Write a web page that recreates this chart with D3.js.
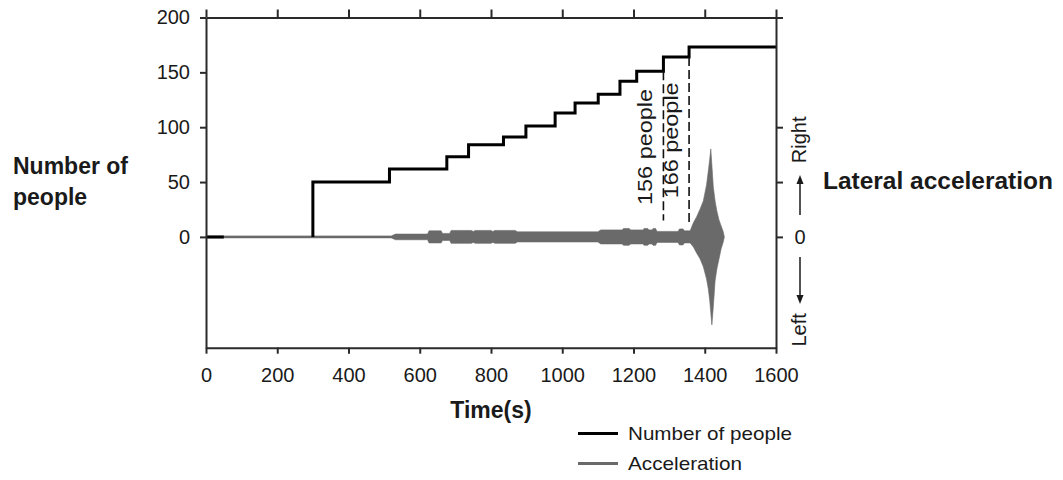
<!DOCTYPE html>
<html>
<head>
<meta charset="utf-8">
<script src="https://cdn.jsdelivr.net/npm/d3@7"></script>
<style>
  html, body { margin: 0; padding: 0; background: #fff; }
  svg { display: block; }
  text { font-family: "Liberation Sans", Arial, Helvetica, sans-serif; fill: #1a1a1a; }
</style>
</head>
<body>
<svg id="chart" width="1063" height="480"></svg>
<script>
// ---------------- data ----------------
const xTicks = [0, 200, 400, 600, 800, 1000, 1200, 1400, 1600];
const yTicks = [0, 50, 100, 150, 200];
const rightTicks = [0, 50, 100, 200];

// Number of people (step series, null = gap)
const peopleTime  = [0, 50, 175, 300, 300, 515, 676, 737, 835, 898, 980, 1036, 1101, 1162, 1209, 1284, 1356, 1600];
const peopleCount = [0, 0, null, 0, 50, 62, 73, 84, 91, 101, 113, 122, 130, 142, 151, 164, 173, 173];

// Marked moments (dashed lines)
const markTime   = [1284, 1356];
const markTop    = [151, 164];
const markBottom = [15, 12];
const markLabels = ["156 people", "166 people"];
const markLabelCenter = [82, 88];

// Lateral acceleration envelope (upper / lower bound)
const accTime  = [0, 520, 532, 622, 626, 660, 664, 684, 688, 745, 750, 756, 800, 805, 811, 868, 874,
                  1100, 1108, 1168, 1172, 1188, 1192, 1226, 1230, 1240, 1244, 1252, 1255, 1262, 1266,
                  1325, 1329, 1339, 1343, 1355,
                  1359, 1368, 1377, 1387, 1396, 1405, 1410, 1414, 1417, 1420, 1424, 1429, 1434, 1440, 1446, 1452, 1455];
const accUpper = [0.009, 0.009, 0.026, 0.026, 0.055, 0.055, 0.032, 0.032, 0.059, 0.059, 0.050, 0.059, 0.059, 0.050, 0.059, 0.059, 0.046,
                  0.046, 0.064, 0.064, 0.077, 0.077, 0.064, 0.064, 0.077, 0.077, 0.064, 0.064, 0.077, 0.077, 0.050,
                  0.050, 0.073, 0.073, 0.055, 0.055,
                  0.055, 0.128, 0.182, 0.255, 0.328, 0.474, 0.602, 0.711, 0.802, 0.656, 0.456, 0.328, 0.237, 0.155, 0.100, 0.046, 0];
const accLower = [-0.009, -0.009, -0.026, -0.026, -0.055, -0.055, -0.032, -0.032, -0.059, -0.059, -0.050, -0.059, -0.059, -0.050, -0.059, -0.059, -0.046,
                  -0.046, -0.064, -0.064, -0.077, -0.077, -0.064, -0.064, -0.077, -0.077, -0.064, -0.064, -0.077, -0.077, -0.050,
                  -0.050, -0.073, -0.073, -0.055, -0.055,
                  -0.055, -0.091, -0.146, -0.201, -0.273, -0.383, -0.474, -0.583, -0.693, -0.802, -0.638, -0.401, -0.292, -0.201, -0.109, -0.046, 0];

const legendLabels = ["Number of people", "Acceleration"];

// ---------------- layout ----------------
const svg = d3.select("#chart");
const L = 206, R = 776, T = 17.5, B = 347.7;
const x = d3.scaleLinear().domain([0, 1600]).range([L, R]);
const y = d3.scaleLinear().domain([-101, 200]).range([B, T]);
const yAcc = d3.scaleLinear().domain([-1.01, 2.0]).range([B, T]);

const axisColor = "#2a2a2a";
const accColor = "#6a6a6a";

// acceleration area
const accData = accTime.map((t, i) => ({ t, up: accUpper[i], lo: accLower[i] }));
svg.append("path")
  .datum(accData)
  .attr("fill", accColor)
  .attr("stroke", accColor)
  .attr("stroke-width", 0.6)
  .attr("d", d3.area().x(d => x(d.t)).y0(d => yAcc(d.lo)).y1(d => yAcc(d.up)));

// people step line
const peopleData = peopleTime.map((t, i) => ({ t, v: peopleCount[i] }));
svg.append("path")
  .datum(peopleData)
  .attr("fill", "none")
  .attr("stroke", "#000")
  .attr("stroke-width", 3)
  .attr("d", d3.line().defined(d => d.v !== null).curve(d3.curveStepAfter).x(d => x(d.t)).y(d => y(d.v)));

// dashed marker lines
markTime.forEach((t, i) => {
  svg.append("line")
    .attr("x1", x(t)).attr("x2", x(t))
    .attr("y1", y(markTop[i])).attr("y2", y(markBottom[i]))
    .attr("stroke", "#111").attr("stroke-width", 1.6)
    .attr("stroke-dasharray", "9,4");
  svg.append("text")
    .attr("transform", `translate(${x(t) - 11},${y(markLabelCenter[i])}) rotate(-90)`)
    .attr("text-anchor", "middle")
    .attr("font-size", 21)
    .attr("textLength", 116)
    .attr("lengthAdjust", "spacingAndGlyphs")
    .text(markLabels[i]);
});

// axes
function styleAxis(g) {
  g.selectAll("path.domain").attr("stroke", axisColor).attr("stroke-width", 2);
  g.selectAll(".tick line").attr("stroke", axisColor).attr("stroke-width", 2);
  g.selectAll(".tick text").attr("font-family", '"Liberation Sans", Arial, sans-serif').attr("font-size", 20).attr("fill", "#1a1a1a");
  g.attr("font-family", null).attr("font-size", null);
}
svg.append("g").attr("transform", `translate(0,${B})`)
  .call(d3.axisBottom(x).tickValues(xTicks).tickFormat(d3.format("d")).tickSize(6).tickSizeOuter(0).tickPadding(14))
  .call(styleAxis);
svg.append("g").attr("transform", `translate(0,${T})`)
  .call(d3.axisTop(x).tickValues(xTicks).tickSize(8).tickSizeOuter(0).tickFormat(""))
  .call(styleAxis);
svg.append("g").attr("transform", `translate(${L},0)`)
  .call(d3.axisLeft(y).tickValues(yTicks).tickFormat(d3.format("d")).tickSize(6).tickSizeOuter(0).tickPadding(10))
  .call(styleAxis);
svg.append("g").attr("transform", `translate(${R},0)`)
  .call(d3.axisRight(y).tickValues(rightTicks).tickSize(7).tickSizeOuter(0).tickFormat(""))
  .call(styleAxis);

// right-side direction labels
const cx = 800;
svg.append("text").attr("x", cx).attr("y", y(0) + 7).attr("text-anchor", "middle").attr("font-size", 20).text("0");
// up arrow
svg.append("line").attr("x1", cx).attr("x2", cx).attr("y1", y(0) - 22).attr("y2", y(0) - 55)
  .attr("stroke", "#1a1a1a").attr("stroke-width", 1.5);
svg.append("path").attr("d", `M${cx},${y(0) - 62} L${cx - 3.5},${y(0) - 53} L${cx + 3.5},${y(0) - 53} Z`).attr("fill", "#1a1a1a");
// down arrow
svg.append("line").attr("x1", cx).attr("x2", cx).attr("y1", y(0) + 20).attr("y2", y(0) + 60)
  .attr("stroke", "#1a1a1a").attr("stroke-width", 1.5);
svg.append("path").attr("d", `M${cx},${y(0) + 67} L${cx - 3.5},${y(0) + 58} L${cx + 3.5},${y(0) + 58} Z`).attr("fill", "#1a1a1a");
svg.append("text").attr("transform", `translate(${cx + 6},${y(0) - 97}) rotate(-90)`)
  .attr("text-anchor", "middle").attr("font-size", 20).text("Right");
svg.append("text").attr("transform", `translate(${cx + 6},${y(0) + 93}) rotate(-90)`)
  .attr("text-anchor", "middle").attr("font-size", 20).text("Left");

// axis titles
const leftTitle = svg.append("text").attr("x", 13).attr("y", 173.5).attr("font-size", 23).attr("font-weight", "bold");
leftTitle.append("tspan").attr("x", 13).attr("y", 173.5).text("Number of");
leftTitle.append("tspan").attr("x", 13).attr("y", 205).text("people");
svg.append("text").attr("x", 823).attr("y", 188.5).attr("font-size", 23).attr("font-weight", "bold")
  .attr("textLength", 230).attr("lengthAdjust", "spacingAndGlyphs").text("Lateral acceleration");
svg.append("text").attr("x", (L + R) / 2).attr("y", 418).attr("text-anchor", "middle")
  .attr("font-size", 23).attr("font-weight", "bold").text("Time(s)");

// legend
const legColors = ["#000", accColor];
const legY = [433.5, 463.5];
const legLen = [164, 114];
legendLabels.forEach((lab, i) => {
  svg.append("line").attr("x1", 578).attr("x2", 618).attr("y1", legY[i]).attr("y2", legY[i])
    .attr("stroke", legColors[i]).attr("stroke-width", 3);
  svg.append("text").attr("x", 628).attr("y", legY[i] + 6.5).attr("font-size", 19)
    .attr("textLength", legLen[i]).attr("lengthAdjust", "spacingAndGlyphs").text(lab);
});
</script>
</body>
</html>
